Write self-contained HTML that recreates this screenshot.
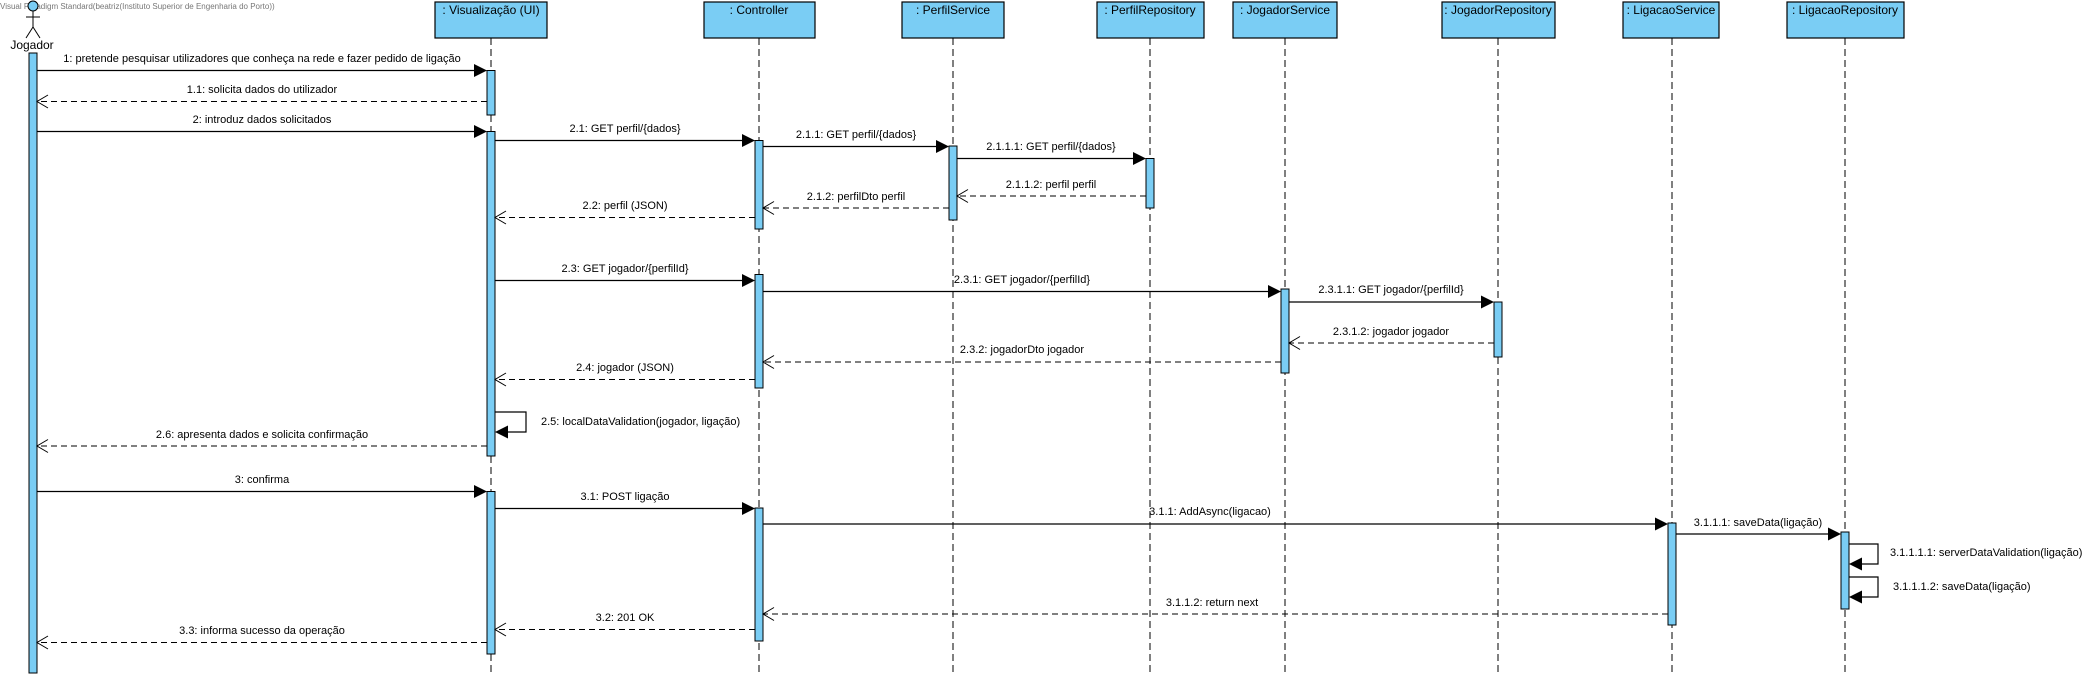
<!DOCTYPE html>
<html><head><meta charset="utf-8"><style>
html,body{margin:0;padding:0;background:#fff;}
svg{display:block;}
text{font-family:"Liberation Sans",sans-serif;font-size:11px;fill:#000;}
.t{text-anchor:middle;}
.box{fill:#7ACDF4;stroke:#000;stroke-width:1.2;}
.act{fill:#7ACDF4;stroke:#000;stroke-width:1;}
.ll{stroke:#000;stroke-width:1;stroke-dasharray:7,4;}
.m{stroke:#000;stroke-width:1.2;fill:none;}
.r{stroke:#000;stroke-width:1;fill:none;stroke-dasharray:6,4;}
.o{stroke:#000;stroke-width:1;fill:none;}
</style></head><body>
<svg width="2098" height="678" viewBox="0 0 2098 678" xmlns="http://www.w3.org/2000/svg">
<text x="0" y="9" style="font-size:8px;fill:#777">Visual Paradigm Standard(beatriz(Instituto Superior de Engenharia do Porto))</text>
<!-- actor -->
<circle cx="33" cy="6" r="5" fill="#7ACDF4" stroke="#000"/>
<line x1="33" y1="11" x2="33" y2="27" class="o"/>
<line x1="26" y1="17" x2="40" y2="17" class="o"/>
<line x1="33" y1="27" x2="26" y2="38" class="o"/>
<line x1="33" y1="27" x2="40" y2="38" class="o"/>
<text class="t" x="32" y="49" style="font-size:12px">Jogador</text>
<!-- lifelines -->
<line class="ll" x1="491" y1="38" x2="491" y2="675"/>
<line class="ll" x1="759" y1="38" x2="759" y2="675"/>
<line class="ll" x1="953" y1="38" x2="953" y2="675"/>
<line class="ll" x1="1150" y1="38" x2="1150" y2="675"/>
<line class="ll" x1="1285" y1="38" x2="1285" y2="675"/>
<line class="ll" x1="1498" y1="38" x2="1498" y2="675"/>
<line class="ll" x1="1672" y1="38" x2="1672" y2="675"/>
<line class="ll" x1="1845" y1="38" x2="1845" y2="675"/>
<!-- boxes -->
<rect class="box" x="435" y="2" width="112" height="36"/><text class="t" x="491" y="14" style="font-size:12px">: Visualização (UI)</text>
<rect class="box" x="704" y="2" width="111" height="36"/><text class="t" x="759" y="14" style="font-size:12px">: Controller</text>
<rect class="box" x="902" y="2" width="102" height="36"/><text class="t" x="953" y="14" style="font-size:12px">: PerfilService</text>
<rect class="box" x="1097" y="2" width="107" height="36"/><text class="t" x="1150" y="14" style="font-size:12px">: PerfilRepository</text>
<rect class="box" x="1233" y="2" width="104" height="36"/><text class="t" x="1285" y="14" style="font-size:12px">: JogadorService</text>
<rect class="box" x="1442" y="2" width="113" height="36"/><text class="t" x="1498" y="14" style="font-size:12px">: JogadorRepository</text>
<rect class="box" x="1623" y="2" width="96" height="36"/><text class="t" x="1671" y="14" style="font-size:12px">: LigacaoService</text>
<rect class="box" x="1787" y="2" width="117" height="36"/><text class="t" x="1845" y="14" style="font-size:12px">: LigacaoRepository</text>
<!-- activations -->
<rect class="act" x="29" y="53" width="8" height="620"/>
<rect class="act" x="487" y="70.5" width="8" height="44.5"/>
<rect class="act" x="487" y="131.5" width="8" height="324.5"/>
<rect class="act" x="487" y="491.5" width="8" height="162.5"/>
<rect class="act" x="755" y="140.5" width="8" height="88.5"/>
<rect class="act" x="755" y="274.5" width="8" height="113.5"/>
<rect class="act" x="755" y="508" width="8" height="133"/>
<rect class="act" x="949" y="146" width="8" height="74"/>
<rect class="act" x="1146" y="158.5" width="8" height="49.5"/>
<rect class="act" x="1281" y="289" width="8" height="84"/>
<rect class="act" x="1494" y="302" width="8" height="55"/>
<rect class="act" x="1668" y="523" width="8" height="102"/>
<rect class="act" x="1841" y="532" width="8" height="77"/>
<!-- sync messages -->
<g>
<line class="m" x1="37" y1="70.5" x2="476" y2="70.5"/><polygon points="487,70.5 474,64 474,77"/>
<text class="t" x="262" y="62">1: pretende pesquisar utilizadores que conheça na rede e fazer pedido de ligação</text>
<line class="m" x1="37" y1="131.5" x2="476" y2="131.5"/><polygon points="487,131.5 474,125 474,138"/>
<text class="t" x="262" y="123">2: introduz dados solicitados</text>
<line class="m" x1="495" y1="140.5" x2="744" y2="140.5"/><polygon points="755,140.5 742,134 742,147"/>
<text class="t" x="625" y="132">2.1: GET perfil/{dados}</text>
<line class="m" x1="763" y1="146.5" x2="938" y2="146.5"/><polygon points="949,146.5 936,140 936,153"/>
<text class="t" x="856" y="138">2.1.1: GET perfil/{dados}</text>
<line class="m" x1="957" y1="158.5" x2="1135" y2="158.5"/><polygon points="1146,158.5 1133,152 1133,165"/>
<text class="t" x="1051" y="150">2.1.1.1: GET perfil/{dados}</text>
<line class="m" x1="495" y1="280.5" x2="744" y2="280.5"/><polygon points="755,280.5 742,274 742,287"/>
<text class="t" x="625" y="272">2.3: GET jogador/{perfilId}</text>
<line class="m" x1="763" y1="291.5" x2="1270" y2="291.5"/><polygon points="1281,291.5 1268,285 1268,298"/>
<text class="t" x="1022" y="283">2.3.1: GET jogador/{perfilId}</text>
<line class="m" x1="1289" y1="302" x2="1483" y2="302"/><polygon points="1494,302 1481,295.5 1481,308.5"/>
<text class="t" x="1391" y="293">2.3.1.1: GET jogador/{perfilId}</text>
<polyline class="m" points="495,412 526,412 526,432 506,432"/><polygon points="495,432 508,425.5 508,438.5"/>
<text x="541" y="425">2.5: localDataValidation(jogador, ligação)</text>
<line class="m" x1="37" y1="491.5" x2="476" y2="491.5"/><polygon points="487,491.5 474,485 474,498"/>
<text class="t" x="262" y="483">3: confirma</text>
<line class="m" x1="495" y1="508.5" x2="744" y2="508.5"/><polygon points="755,508.5 742,502 742,515"/>
<text class="t" x="625" y="500">3.1: POST ligação</text>
<line class="m" x1="763" y1="524" x2="1657" y2="524"/><polygon points="1668,524 1655,517.5 1655,530.5"/>
<text class="t" x="1210" y="515">3.1.1: AddAsync(ligacao)</text>
<line class="m" x1="1676" y1="534" x2="1830" y2="534"/><polygon points="1841,534 1828,527.5 1828,540.5"/>
<text class="t" x="1758" y="526">3.1.1.1: saveData(ligação)</text>
<polyline class="m" points="1849,544 1878,544 1878,564 1860,564"/><polygon points="1849,564 1862,557.5 1862,570.5"/>
<text x="1890" y="556">3.1.1.1.1: serverDataValidation(ligação)</text>
<polyline class="m" points="1849,577 1878,577 1878,597 1860,597"/><polygon points="1849,597 1862,590.5 1862,603.5"/>
<text x="1893" y="590">3.1.1.1.2: saveData(ligação)</text>
</g>
<!-- returns -->
<g>
<line class="r" x1="487" y1="101.5" x2="37" y2="101.5"/><polyline class="o" points="48,95 37,101.5 48,108"/>
<text class="t" x="262" y="93">1.1: solicita dados do utilizador</text>
<line class="r" x1="1146" y1="196" x2="957" y2="196"/><polyline class="o" points="968,189.5 957,196 968,202.5"/>
<text class="t" x="1051" y="188">2.1.1.2: perfil perfil</text>
<line class="r" x1="949" y1="208" x2="763" y2="208"/><polyline class="o" points="774,201.5 763,208 774,214.5"/>
<text class="t" x="856" y="200">2.1.2: perfilDto perfil</text>
<line class="r" x1="755" y1="217.5" x2="495" y2="217.5"/><polyline class="o" points="506,211 495,217.5 506,224"/>
<text class="t" x="625" y="209">2.2: perfil (JSON)</text>
<line class="r" x1="1494" y1="343" x2="1289" y2="343"/><polyline class="o" points="1300,336.5 1289,343 1300,349.5"/>
<text class="t" x="1391" y="335">2.3.1.2: jogador jogador</text>
<line class="r" x1="1281" y1="362" x2="763" y2="362"/><polyline class="o" points="774,355.5 763,362 774,368.5"/>
<text class="t" x="1022" y="353">2.3.2: jogadorDto jogador</text>
<line class="r" x1="755" y1="379.5" x2="495" y2="379.5"/><polyline class="o" points="506,373 495,379.5 506,386"/>
<text class="t" x="625" y="371">2.4: jogador (JSON)</text>
<line class="r" x1="487" y1="446" x2="37" y2="446"/><polyline class="o" points="48,439.5 37,446 48,452.5"/>
<text class="t" x="262" y="438">2.6: apresenta dados e solicita confirmação</text>
<line class="r" x1="1668" y1="614" x2="763" y2="614"/><polyline class="o" points="774,607.5 763,614 774,620.5"/>
<text class="t" x="1212" y="606">3.1.1.2: return next</text>
<line class="r" x1="755" y1="629.5" x2="495" y2="629.5"/><polyline class="o" points="506,623 495,629.5 506,636"/>
<text class="t" x="625" y="621">3.2: 201 OK</text>
<line class="r" x1="487" y1="642.5" x2="37" y2="642.5"/><polyline class="o" points="48,636 37,642.5 48,649"/>
<text class="t" x="262" y="634">3.3: informa sucesso da operação</text>
</g>
</svg>
</body></html>
